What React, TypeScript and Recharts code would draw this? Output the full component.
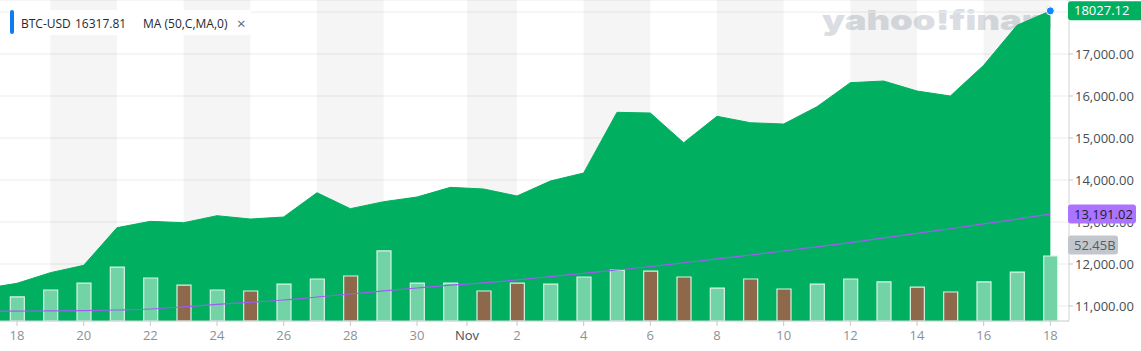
import React from 'react';
import {
  ComposedChart,
  Area,
  Bar,
  Line,
  XAxis,
  YAxis,
  CartesianGrid,
  ReferenceArea,
  ReferenceDot,
  Cell,
} from 'recharts';

// day index: -1 = Oct 17 ... 31 = Nov 18
const dates = [
  'Oct 17', 'Oct 18', 'Oct 19', 'Oct 20', 'Oct 21', 'Oct 22', 'Oct 23', 'Oct 24', 'Oct 25',
  'Oct 26', 'Oct 27', 'Oct 28', 'Oct 29', 'Oct 30', 'Oct 31', 'Nov 1', 'Nov 2', 'Nov 3',
  'Nov 4', 'Nov 5', 'Nov 6', 'Nov 7', 'Nov 8', 'Nov 9', 'Nov 10', 'Nov 11', 'Nov 12',
  'Nov 13', 'Nov 14', 'Nov 15', 'Nov 16', 'Nov 17', 'Nov 18',
];

const closes = [
  11412, 11540, 11793, 11968, 12865, 13016, 12983, 13150, 13071,
  13119, 13698, 13317, 13484, 13595, 13825, 13786, 13619, 13976,
  14167, 15612, 15595, 14888, 15517, 15364, 15333, 15745, 16317.81,
  16357, 16119, 16000, 16731, 17683, 18027.12,
];

const maValues = [
  10878, 10880, 10882, 10888, 10905, 10929, 10980, 11040, 11090,
  11143, 11215, 11286, 11360, 11429, 11495, 11550, 11620, 11700,
  11780, 11857, 11940, 12030, 12120, 12215, 12310, 12410, 12510,
  12620, 12731, 12840, 12955, 13070, 13191.02,
];

// volume in billions
const volumes = [
  null, 19.4, 25, 30.6, 43.5, 34.7, 29, 25, 24.2,
  29.8, 33.9, 36.3, 56.5, 30.6, 30.6, 24.2, 30.6, 29.8,
  35.5, 41, 40.3, 35.5, 26.6, 33.9, 25.8, 29.8, 33.9,
  31.5, 27.4, 23.4, 31.5, 39.5, 52.45,
];

const tickPositions = [0, 2, 4, 6, 8, 10, 12, 13.5, 15, 17, 19, 21, 23, 25, 27, 29, 31];
const tickLabels = ['18', '20', '22', '24', '26', '28', '30', 'Nov', '2', '4', '6', '8', '10', '12', '14', '16', '18'];
const bands = [[1, 3], [5, 7], [9, 11], [13.5, 15], [17, 19], [21, 23], [25, 27], [29, 31]];
const priceTicks = [11000, 12000, 13000, 14000, 15000, 16000, 17000, 18000];

const lastClose = 18027.12;
const lastMa = 13191.02;
const lastVol = 52.45;

const FONT = "'Open Sans', 'Noto Sans', sans-serif";

const data = dates.map((d, k) => ({
  i: k - 1,
  date: d,
  close: closes[k],
  ma: maValues[k],
  vol: volumes[k],
  up: k === 0 ? true : closes[k] >= closes[k - 1],
}));

const XTick = (props: any) => {
  const { x, y, payload } = props;
  const label = tickLabels[tickPositions.indexOf(payload.value)];
  return (
    <text x={x} y={y} dy="0.71em" textAnchor="middle" fontSize={13} fontFamily={FONT}
      fill={label === 'Nov' ? '#464e56' : '#8c9199'}>
      {label}
    </text>
  );
};

const YTick = (props: any) => {
  const { x, y, payload } = props;
  if (payload.value === 18000) return <g />;
  return (
    <text x={x} y={y} dy="0.35em" textAnchor="start" fontSize={13} fontFamily={FONT} fill="#464e56">
      {payload.value.toLocaleString('en-US', { minimumFractionDigits: 2 })}
    </text>
  );
};

const badge = (text: string, fill: string, color: string, w: number, shift = 0) => (props: any) => {
  const { cx, cy } = props;
  const y = cy + shift;
  return (
    <g>
      <rect x={cx - 1} y={y - 9.5} width={w} height={19} rx={3} fill={fill} />
      <text x={cx + 5} y={y} dy="0.35em" fontSize={13} fontFamily={FONT} fill={color}>{text}</text>
    </g>
  );
};

export default function App() {
  return (
    <div style={{ position: 'absolute', left: 0, top: 0, width: 1141, height: 351, overflow: 'hidden', background: '#fff' }}>
      <div style={{ position: 'absolute', left: 0, top: 0, width: 1051, height: 60, overflow: 'hidden' }}>
        <div style={{
          position: 'absolute', left: 822, top: 4, fontFamily: 'Inter, sans-serif', fontWeight: 900,
          fontSize: 27, color: '#dadde2', transform: 'scaleX(1.35)', transformOrigin: 'left', whiteSpace: 'nowrap',
        }}>
          yahoo!finance
        </div>
      </div>
      <div style={{ position: 'absolute', left: 0, top: 0 }}>
        <ComposedChart width={1141} height={351} data={data} margin={{ top: 0, right: 0, bottom: 0, left: 0 }}>
          <XAxis dataKey="i" type="number" domain={[-0.51, 31.56]} allowDataOverflow ticks={tickPositions}
            interval={0} tick={<XTick />} tickSize={5} tickMargin={5} height={30}
            axisLine={{ stroke: '#cfd2d6' }} tickLine={{ stroke: '#c4c7cb' }} />
          <YAxis yAxisId="price" orientation="right" domain={[10643, 18286]} allowDataOverflow ticks={priceTicks}
            interval={0} width={72} tick={<YTick />} tickSize={4} tickMargin={2}
            axisLine={{ stroke: '#cfd2d6' }} tickLine={{ stroke: '#c4c7cb' }} />
          <YAxis yAxisId="vol" hide domain={[0, 259]} />
          <CartesianGrid yAxisId="price" vertical={false} stroke="#ececec" />
          {bands.map(([a, b], k) => (
            <ReferenceArea key={k} x1={a} x2={b} yAxisId="price" fill="#000" fillOpacity={0.04}
              stroke="none" ifOverflow="hidden" zIndex={-90} />
          ))}
          <Area yAxisId="price" dataKey="close" type="linear" fill="#00b060" fillOpacity={1}
            stroke="#00b060" strokeWidth={1} dot={false} activeDot={false} isAnimationActive={false} />
          <Bar yAxisId="vol" dataKey="vol" barSize={14} stroke="#d8f3e5" strokeWidth={1.2} isAnimationActive={false}>
            {data.map((d, k) => (
              <Cell key={k} fill={d.up ? '#72d4a6' : '#8d684a'} />
            ))}
          </Bar>
          <Line yAxisId="price" dataKey="ma" type="monotone" stroke="#a05cf2" strokeWidth={1.2}
            dot={false} activeDot={false} isAnimationActive={false} />
          <ReferenceDot x={31} y={lastClose} yAxisId="price" r={4} fill="#1585fa" stroke="#fff"
            strokeWidth={1} ifOverflow="visible" zIndex={1500} />
          <ReferenceDot x={31.56} y={lastClose} yAxisId="price" ifOverflow="visible" zIndex={2000}
            shape={badge(lastClose.toFixed(2), '#00b060', '#fff', 80)} />
          <ReferenceDot x={31.56} y={lastMa} yAxisId="price" ifOverflow="visible" zIndex={2000}
            shape={badge(lastMa.toLocaleString('en-US', { minimumFractionDigits: 2 }), '#ab73ff', '#1d2228', 68)} />
          <ReferenceDot x={31.56} y={lastVol} yAxisId="vol" ifOverflow="visible" zIndex={2000}
            shape={badge(lastVol + 'B', '#c3c7cd', '#555c63', 50, -11)} />
        </ComposedChart>
      </div>
      <div style={{
        position: 'absolute', left: 9, top: 10, width: 242, height: 25, background: '#fff',
        fontFamily: FONT, fontSize: 12, color: '#232a31',
      }}>
        <div style={{ position: 'absolute', left: 1, top: 0, width: 4, height: 24, borderRadius: 2, background: '#0f7cf0' }} />
        <span style={{ position: 'absolute', left: 12, top: 5, whiteSpace: 'nowrap' }}>BTC-USD</span>
        <span style={{ position: 'absolute', left: 66, top: 5, whiteSpace: 'nowrap' }}>16317.81</span>
        <span style={{ position: 'absolute', left: 134, top: 5, whiteSpace: 'nowrap' }}>MA (50,C,MA,0)</span>
        <span style={{ position: 'absolute', left: 228, top: 3, fontSize: 15, color: '#5b636a' }}>×</span>
      </div>
    </div>
  );
}
